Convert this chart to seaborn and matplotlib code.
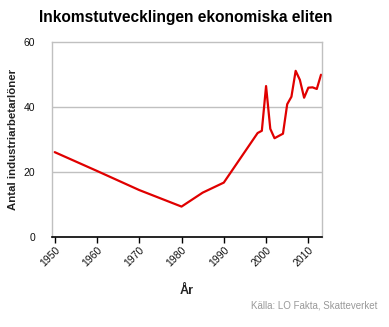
import matplotlib
matplotlib.use("Agg")
import matplotlib.pyplot as plt
import seaborn as sns
import pandas as pd

years = [1950, 1960, 1970, 1980, 1985, 1990, 1998, 1999, 2000, 2001, 2002, 2004,
         2005, 2006, 2007, 2008, 2009, 2010, 2011, 2012, 2013]
values = [26.1, 20.3, 14.4, 9.3, 13.6, 16.7, 32.0, 32.7, 46.5, 33.3, 30.4, 31.8,
          40.9, 43.2, 51.2, 48.4, 42.9, 46.0, 46.1, 45.6, 50.0]
xticks = [1950, 1960, 1970, 1980, 1990, 2000, 2010]
yticks = [0, 20, 40, 60]

df = pd.DataFrame({"year": years, "value": values})

sns.set_theme(style="white")
plt.rcParams['font.family'] = ['Liberation Sans', 'DejaVu Sans']

fig = plt.figure(figsize=(3.89, 3.27), dpi=100)
ax = fig.add_axes([0.133, 0.2761, 0.6955, 0.5945])

sns.lineplot(data=df, x="year", y="value", ax=ax, color="#e00000", linewidth=1.6)

ax.set_xlim(1949.3, 2013.3)
ax.set_ylim(0, 60)
ax.set_xticks(xticks)
ax.set_yticks(yticks)
ax.set_xticklabels([str(t) for t in xticks], rotation=45, ha="right",
                   rotation_mode="anchor", fontsize=7.5)
ax.set_yticklabels([str(t) for t in yticks], fontsize=7.5)
ax.tick_params(axis="x", which="both", bottom=True, length=4, width=1,
               color="black", pad=2, labelcolor="#111111")
ax.tick_params(axis="y", left=False, pad=6, labelcolor="#111111")

for y in [20, 40]:
    ax.axhline(y, color="#c0c0c0", linewidth=1, zorder=0)

for side in ["top", "right", "left"]:
    ax.spines[side].set_visible(True)
    ax.spines[side].set_color("#c0c0c0")
    ax.spines[side].set_linewidth(1)
ax.spines["bottom"].set_color("black")
ax.spines["bottom"].set_linewidth(1.2)

ax.set_xlabel("År", fontsize=9, fontweight="bold", labelpad=12, color="#222222")
ax.set_ylabel("Antal industriarbetarlöner", fontsize=8.2, fontweight="bold",
              color="#222222")
ax.yaxis.set_label_coords(-0.123, 0.5)

fig.text(0.478, 0.948, "Inkomstutvecklingen ekonomiska eliten", ha="center",
         va="center", fontsize=11.2, fontweight="bold", color="black")
fig.text(0.97, 0.067, "Källa: LO Fakta, Skatteverket", ha="right", va="center",
         fontsize=7, color="#999999")

fig.savefig("out.png", dpi=100)
